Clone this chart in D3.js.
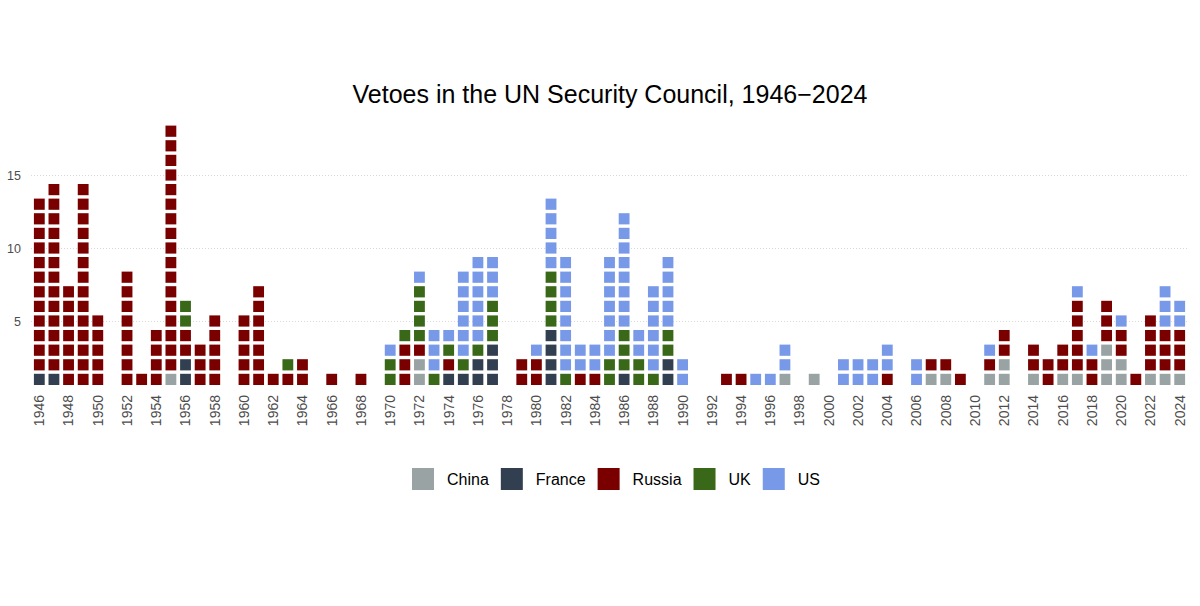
<!DOCTYPE html>
<html>
<head>
<meta charset="utf-8">
<script src="https://cdn.jsdelivr.net/npm/d3@7"></script>
<style>
  body { margin: 0; background: #fff; }
  svg { font-family: "Liberation Sans", Arial, Helvetica, sans-serif; }
</style>
</head>
<body>
<script>
// vetoes per year, 1946..2024
var years = d3.range(1946, 2025);
var countries = ["China", "France", "Russia", "UK", "US"];
var colors = ["#9aa3a3", "#323f51", "#7a0000", "#386818", "#7898e8"];

var china = [
  0,0,0,0,0,0,0,0,0,1,
  0,0,0,0,0,0,0,0,0,0,
  0,0,0,0,0,0,2,0,0,0,
  0,0,0,0,0,0,0,0,0,0,
  0,0,0,0,0,0,0,0,0,0,
  0,1,0,1,0,0,0,0,0,0,
  0,1,1,0,0,1,2,0,1,0,
  1,1,0,3,2,0,1,1,1];
var france = [
  1,1,0,0,0,0,0,0,0,0,
  2,0,0,0,0,0,0,0,0,0,
  0,0,0,0,0,0,0,0,1,1,
  2,3,0,0,0,4,0,0,0,0,
  1,0,0,2,0,0,0,0,0,0,
  0,0,0,0,0,0,0,0,0,0,
  0,0,0,0,0,0,0,0,0,0,
  0,0,0,0,0,0,0,0,0];
var russia = [
  12,13,7,14,5,0,8,1,4,17,
  2,3,5,0,5,7,1,1,2,0,
  1,0,1,0,0,3,1,0,1,0,
  0,0,0,2,2,0,0,1,1,0,
  0,0,0,0,0,0,0,1,1,0,
  0,0,0,0,0,0,0,0,1,0,
  0,1,1,1,0,1,2,0,2,2,
  2,5,2,3,2,1,4,3,3];
var uk = [
  0,0,0,0,0,0,0,0,0,0,
  2,0,0,0,0,0,0,1,0,0,
  0,0,0,0,2,1,4,1,1,1,
  1,3,0,0,0,4,1,0,0,2,
  3,2,1,2,0,0,0,0,0,0,
  0,0,0,0,0,0,0,0,0,0,
  0,0,0,0,0,0,0,0,0,0,
  0,0,0,0,0,0,0,0,0];
var us = [
  0,0,0,0,0,0,0,0,0,0,
  0,0,0,0,0,0,0,0,0,0,
  0,0,0,0,1,0,1,3,1,6,
  6,3,0,0,1,5,8,2,2,7,
  8,2,6,5,2,0,0,0,0,1,
  1,2,0,0,0,2,2,2,2,0,
  2,0,0,0,0,1,0,0,0,0,
  0,1,1,0,1,0,0,3,2];
var yTicks = [5, 10, 15];

var series = [china, france, russia, uk, us];

var W = 1200, H = 606;
var svg = d3.select("body").append("svg").attr("width", W).attr("height", H);

var x = d3.scaleBand().domain(years).range([32, 1187]).paddingInner(0.26).paddingOuter(0.13);
var y = d3.scaleLinear().domain([0, 19]).range([394, 394 - 19 * 14.6]);
var color = d3.scaleOrdinal().domain(countries).range(colors);

// one square per veto, stacked China -> US
var cells = [];
years.forEach((yr, i) => {
    var level = 0;
    countries.forEach((c, j) => {
        for (var k = 0; k < series[j][i]; k++) {
            level++;
            cells.push({year: yr, country: c, level: level});
        }
    });
});

// gridlines
var gy = svg.append("g")
    .attr("transform", "translate(31,0)")
    .call(d3.axisLeft(y).tickValues(yTicks).tickSize(-1157).tickPadding(10));
gy.select(".domain").remove();
gy.selectAll(".tick line").attr("stroke", "#d9d9d9").attr("stroke-dasharray", "1,2");
gy.selectAll(".tick text").attr("fill", "#4d4d4d").style("font-size", "12.5px");

var cellH = 11.2;
svg.append("g").selectAll("rect")
    .data(cells)
    .enter()
    .append("rect")
    .attr("x", d => x(d.year))
    .attr("width", x.bandwidth())
    .attr("y", d => y(d.level) - cellH / 2)
    .attr("height", cellH)
    .attr("fill", d => color(d.country));

// year labels
var gx = svg.append("g")
    .attr("transform", "translate(0,392)")
    .call(d3.axisBottom(x).tickValues(years.filter(d => d % 2 == 0)).tickSize(0).tickPadding(0));
gx.select(".domain").remove();
gx.selectAll(".tick text")
    .attr("transform", "rotate(-90)")
    .attr("x", -3)
    .attr("y", 0)
    .attr("dy", "0.35em")
    .attr("text-anchor", "end")
    .attr("fill", "#4d4d4d")
    .style("font-size", "14px");

svg.append("text")
    .attr("x", 610)
    .attr("y", 103)
    .attr("text-anchor", "middle")
    .attr("fill", "#000")
    .style("font-size", "25px")
    .text("Vetoes in the UN Security Council, 1946\u22122024");

// legend
var legend = svg.append("g");
var items = legend.selectAll("g").data(countries).enter().append("g");
items.append("rect")
    .attr("width", 22).attr("height", 22)
    .attr("y", -11)
    .attr("fill", d => color(d));
items.append("text")
    .attr("x", 35)
    .attr("dy", "0.35em")
    .attr("fill", "#000")
    .style("font-size", "16px")
    .text(d => d);
var pos = 0;
items.each(function(d) {
    var w = this.querySelector("text").getComputedTextLength();
    d3.select(this).attr("transform", "translate(" + pos + ",0)");
    pos += 35 + w + 12;
});
var total = pos - 12;
legend.attr("transform", "translate(" + (616 - total / 2) + ",479)");
</script>
</body>
</html>
